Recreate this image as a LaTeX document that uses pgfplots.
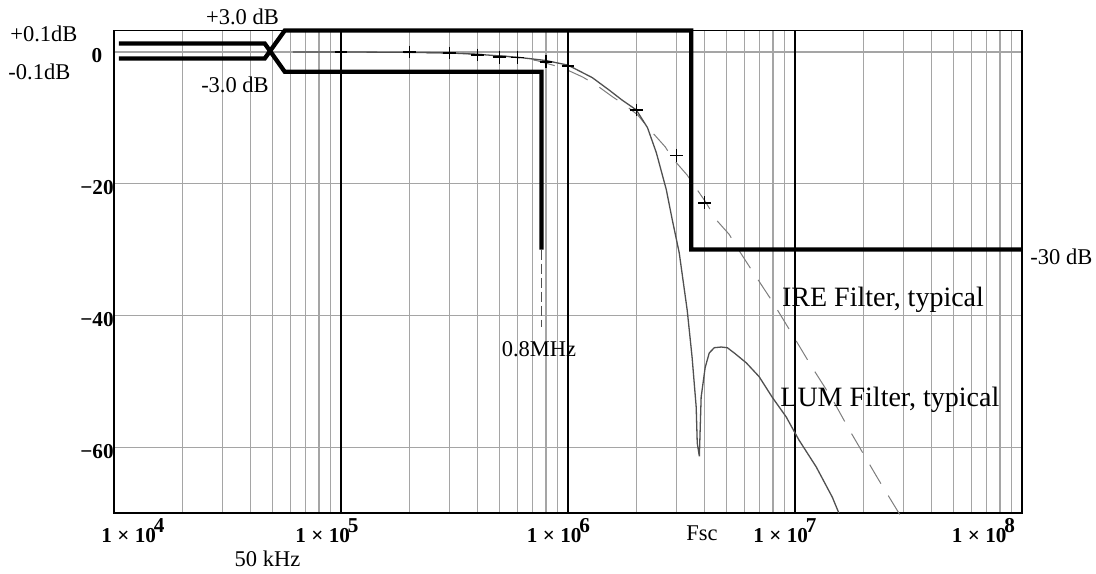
\documentclass[border=0pt]{standalone}
\usepackage{fontspec}
\setmainfont{Liberation Serif}
\usepackage{pgfplots}
\pgfplotsset{compat=1.18}
\definecolor{gridgray}{RGB}{165,165,165}
\definecolor{lumgray}{RGB}{80,80,80}
\definecolor{iregray}{RGB}{125,125,125}
\newcommand{\xl}[1]{\textbf{1 × 10\kern-1pt\raisebox{5pt}{#1}}}
\newcommand{\smallfont}{\fontsize{11.25}{13}\selectfont}
\newcommand{\bigfont}{\fontsize{14}{16}\selectfont}
\begin{document}
\begin{tikzpicture}
\useasboundingbox (-57pt,-30pt) rectangle (491pt,256.5pt);
\begin{axis}[
  at={(0,0)}, anchor=south west,
  scale only axis, width=454pt, height=241.25pt,
  xmode=log, xmin=1e4, xmax=1e8, ymin=-70, ymax=3.26,
  clip=false,
  axis line style={black, line width=0.8pt},
  xtick={1e4,1e5,1e6,1e7,1e8},
  xticklabels={{\hspace*{19pt}\xl{4}},{\xl{5}\hspace*{14pt}},{\xl{6}\hspace*{9.5pt}},{\xl{7}\hspace*{10pt}},{\xl{8}\hspace*{38.5pt}}},
  minor xtick={2e4,3e4,4e4,5e4,6e4,7e4,8e4,9e4,2e5,3e5,4e5,5e5,6e5,7e5,8e5,9e5,2e6,3e6,4e6,5e6,6e6,7e6,8e6,9e6,2e7,3e7,4e7,5e7,6e7,7e7,8e7,9e7},
  ytick={-60,-40,-20,0},
  yticklabels={\textbf{−60},\textbf{−40},\textbf{−20},\textbf{0}},
  tick label style={font=\fontsize{10.6}{12}\selectfont, inner sep=0pt},
  xticklabel style={anchor=north, yshift=-2.5pt},
  yticklabel style={anchor=center, xshift=-8.5pt, yshift=-2pt},
  major tick length=0pt, minor tick length=0pt,
  xmajorgrids, xminorgrids, ymajorgrids,
  grid style={gridgray, line width=0.6pt},
  minor grid style={gridgray, line width=0.6pt},
]
% decade grid lines (black)
\draw[black, line width=0.6pt] (axis cs:1e5,-70) -- (axis cs:1e5,3.26);
\draw[black, line width=0.6pt] (axis cs:1e6,-70) -- (axis cs:1e6,3.26);
\draw[black, line width=0.6pt] (axis cs:1e7,-70) -- (axis cs:1e7,3.26);

% IRE filter, typical (dashed)
\addplot[iregray, line width=0.5pt, dash pattern=on 11pt off 7pt] coordinates {
(1.64e5,-0.05) (3.43e5,-0.2) (5.25e5,-0.6) (7.26e5,-1.3) (9.45e5,-2.4)
(1.16e6,-3.8) (1.33e6,-5.0) (1.57e6,-6.8) (1.77e6,-8.0) (2.02e6,-9.5)
(2.28e6,-11.7) (2.68e6,-14.4) (2.88e6,-16.1) (3.35e6,-18.7) (4.06e6,-22.9)
(4.50e6,-25.5) (5.13e6,-27.7) (5.56e6,-29.7) (6.41e6,-33.0) (7.85e6,-37.6)
(9.62e6,-42.6) (1.18e7,-47.7) (1.46e7,-52.7) (1.73e7,-57.3) (2.32e7,-64.8)
(3.11e7,-72.0)
};

% LUM filter, typical (solid)
\addplot[lumgray, line width=0.65pt] coordinates {
(6.13e4,0) (1e5,0) (2e5,-0.05) (3e5,-0.15) (4e5,-0.35) (5e5,-0.6) (6e5,-0.8)
(8e5,-1.3) (1e6,-2.0) (1.28e6,-3.9) (1.52e6,-5.8) (1.73e6,-7.3) (2.0e6,-8.8)
(2.24e6,-11.5) (2.45e6,-15.3) (2.71e6,-20.9) (2.88e6,-25.5) (3.09e6,-30.5)
(3.35e6,-39.2) (3.52e6,-46.3) (3.67e6,-53.9) (3.71e6,-59.4) (3.79e6,-61.4)
(3.86e6,-52.4) (4.02e6,-47.9) (4.19e6,-45.7) (4.41e6,-44.9) (4.73e6,-44.8)
(5.03e6,-44.9) (5.40e6,-45.7) (6.10e6,-47.2) (6.95e6,-49.3) (7.93e6,-52.4)
(9.14e6,-55.4) (1.04e7,-58.9) (1.24e7,-63.0) (1.46e7,-67.6) (1.56e7,-70.0)
};

% spec points
\addplot[only marks, mark=+, mark size=3.2pt, black, mark options={line width=0.8pt}] coordinates {
(1e5,0) (2e5,0) (3e5,-0.15) (4e5,-0.45) (5e5,-0.8) (6e5,-0.85) (8e5,-1.5)
(1e6,-2.1) (2e6,-8.8) (3e6,-15.7) (4e6,-22.9)
};

% mask lines
\addplot[black, line width=2.15pt] coordinates {
(1.05e4,1.3) (4.61e4,1.3) (5.65e4,-3) (7.64e5,-3) (7.64e5,-30)
};
\addplot[black, line width=2.15pt] coordinates {
(1.05e4,-1.0) (4.61e4,-1.0) (5.65e4,3.25) (3.49e6,3.25) (3.49e6,-30) (1e8,-30)
};
\addplot[lumgray, line width=0.9pt, dash pattern=on 5pt off 2pt] coordinates {
(7.64e5,-30) (7.64e5,-41.7)
};
\end{axis}

\node[anchor=base, inner sep=0pt, font=\smallfont] at (64.25pt,244pt) {+3.0 dB};
\node[anchor=base, inner sep=0pt, font=\smallfont] at (60.5pt,210pt) {-3.0 dB};
\node[anchor=base west, inner sep=0pt, font=\smallfont] at (-52pt,235.5pt) {+0.1dB};
\node[anchor=base west, inner sep=0pt, font=\smallfont] at (-53pt,216.5pt) {-0.1dB};
\node[anchor=base, inner sep=0pt, font=\smallfont] at (76.75pt,-26.5pt) {50 kHz};
\node[anchor=base, inner sep=0pt, font=\smallfont] at (212.5pt,78pt) {0.8MHz};
\node[anchor=base, inner sep=0pt, font=\smallfont] at (294pt,-13.5pt) {Fsc};
\node[anchor=base west, inner sep=0pt, font=\smallfont] at (458pt,124pt) {-30 dB};
\node[anchor=base west, inner sep=0pt, font=\bigfont] at (333.85pt,103pt) {IRE Filter, typical};
\node[anchor=base west, inner sep=0pt, font=\bigfont] at (333pt,53.5pt) {LUM Filter, typical};
\end{tikzpicture}
\end{document}
